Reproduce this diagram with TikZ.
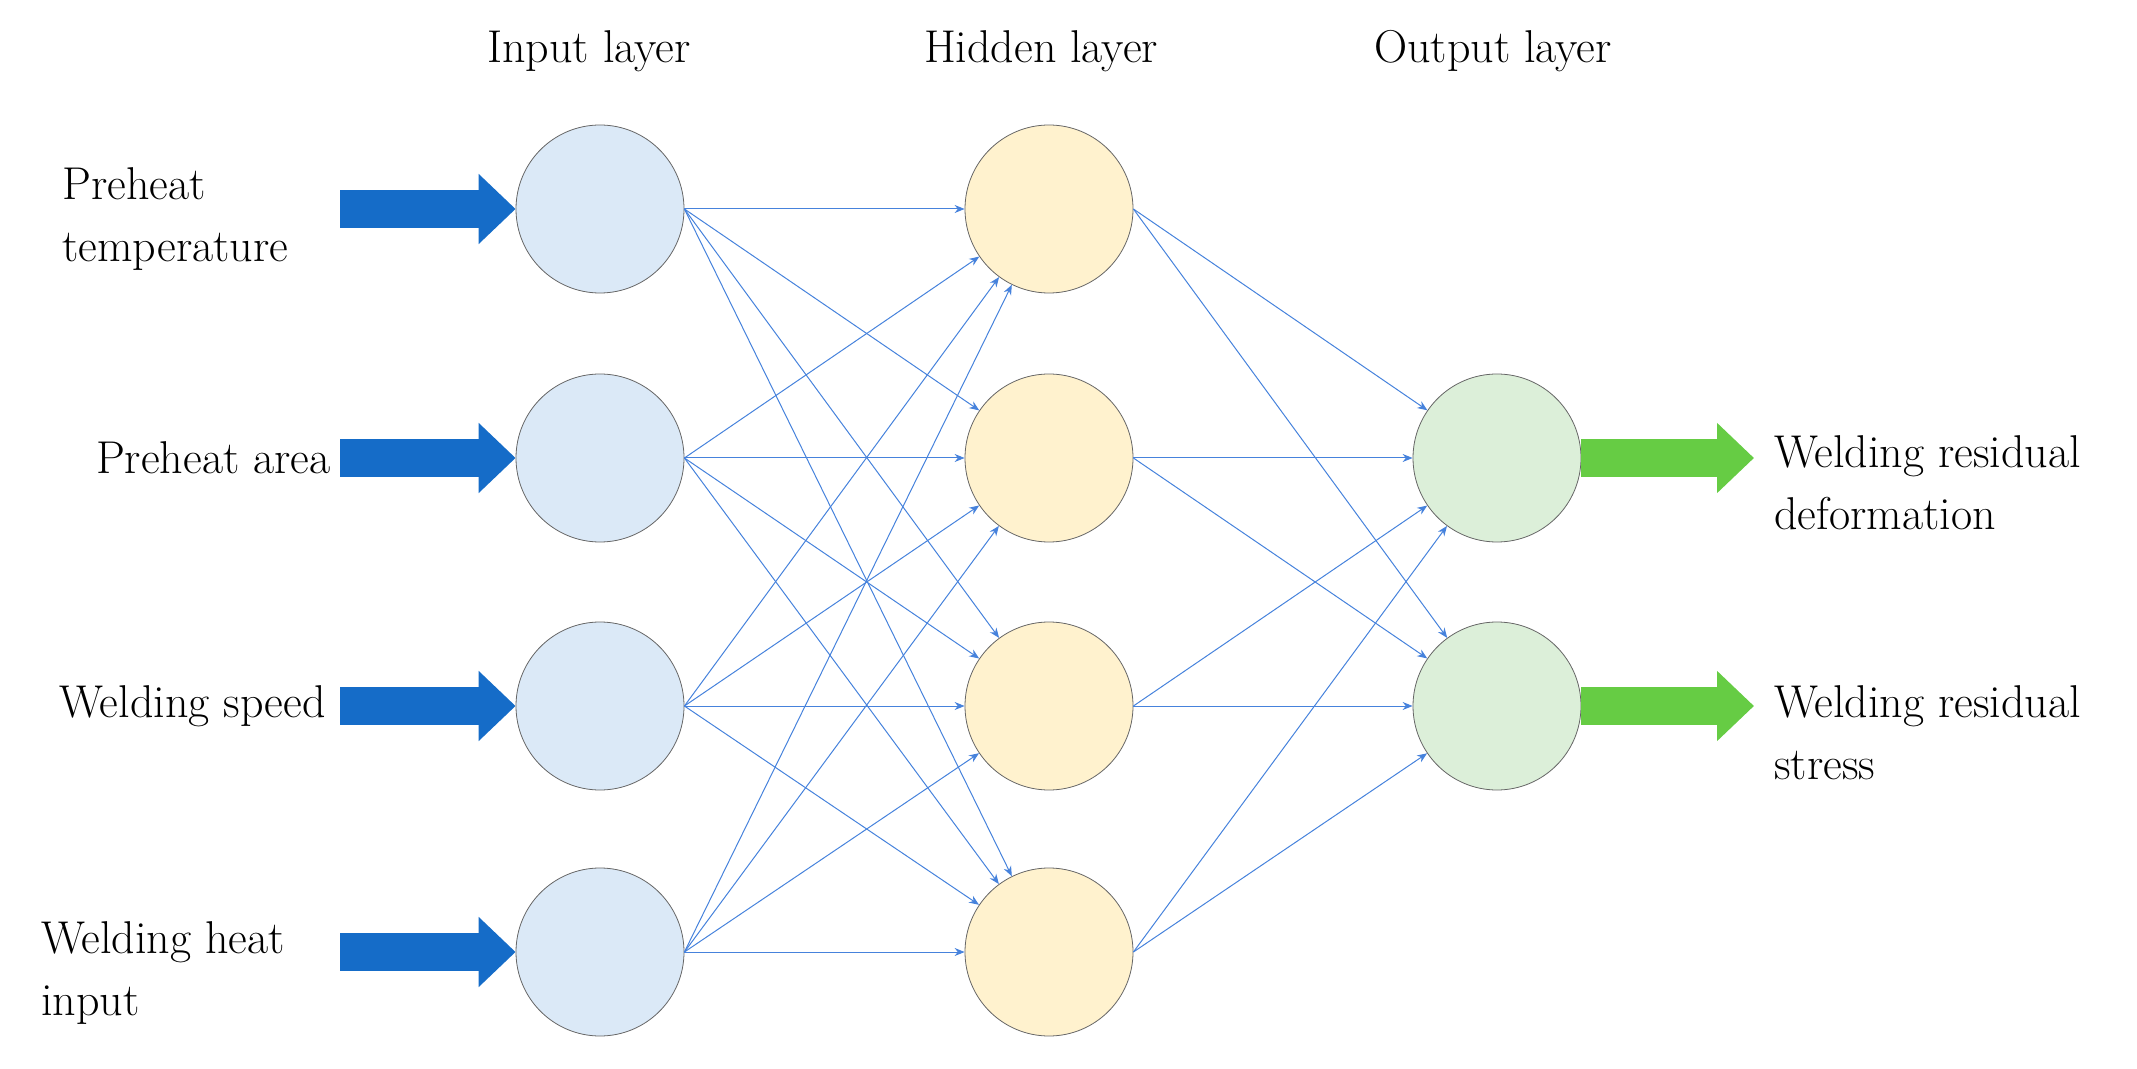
\documentclass[tikz,border=0pt]{standalone}
\usetikzlibrary{arrows.meta}
\definecolor{inblue}{RGB}{219,233,247}
\definecolor{hidyel}{RGB}{255,242,206}
\definecolor{outgrn}{RGB}{220,239,217}
\definecolor{linkblue}{RGB}{70,130,220}
\definecolor{fatblue}{RGB}{21,108,200}
\definecolor{fatgrn}{RGB}{102,204,68}
\tikzset{
  neuron/.style = {circle, draw=gray!80!black, thin, minimum size=84pt, inner sep=0pt},
  link/.style = {draw=linkblue, line width=0.5pt, -{Stealth[length=5pt,width=4pt]}},
  fat/.style = {line width=19pt, -{Triangle[length=18.5pt,width=34pt]}},
  lbl/.style = {font=\rmfamily\fontsize{23}{31}\selectfont, inner sep=0pt},
}
\begin{document}
\begin{tikzpicture}[x=0.5pt, y=-0.5pt]
\useasboundingbox (0,0) rectangle (2137,1069);

% layer titles
\node[lbl] (tin)  at (589,51)  {Input layer};
\node[lbl] (thid) at (1041,51) {Hidden layer};
\node[lbl] (tout) at (1493,51) {Output layer};

% neurons
\foreach \i/\y in {1/209, 2/458, 3/706, 4/952} {
  \node[neuron, fill=inblue] (in\i) at (600,\y) {};
  \node[neuron, fill=hidyel] (hid\i) at (1049,\y) {};
}
\node[neuron, fill=outgrn] (out1) at (1497,458) {};
\node[neuron, fill=outgrn] (out2) at (1497,706) {};

% links
\foreach \i in {1,...,4}
  \foreach \j in {1,...,4}
    \draw[link] (in\i.east) -- (hid\j);
\foreach \j in {1,...,4}
  \foreach \k in {1,2}
    \draw[link] (hid\j.east) -- (out\k);

% input arrows
\foreach \i/\y in {1/209, 2/458, 3/706, 4/952} {
  \coordinate (src\i) at (340,\y);
  \draw[fat, fatblue] (src\i) -- (in\i.west);
}
% output arrows
\coordinate (dst1) at (1754,458);
\coordinate (dst2) at (1754,706);
\draw[fat, fatgrn] (out1.east) -- (dst1);
\draw[fat, fatgrn] (out2.east) -- (dst2);

% input labels
\node[lbl, align=left, anchor=west] (l1) at (62,219) {Preheat\\temperature};
\node[lbl, anchor=east] (l2) at (331,458) {Preheat area};
\node[lbl, anchor=east] (l3) at (326,706) {Welding speed};
\node[lbl, align=left, anchor=west] (l4) at (41,973) {Welding heat\\input};

% output labels
\node[lbl, align=left, anchor=west] (r1) at (1774,483) {Welding residual\\deformation};
\node[lbl, align=left, anchor=west] (r2) at (1774,733) {Welding residual\\stress};
\end{tikzpicture}
\end{document}
